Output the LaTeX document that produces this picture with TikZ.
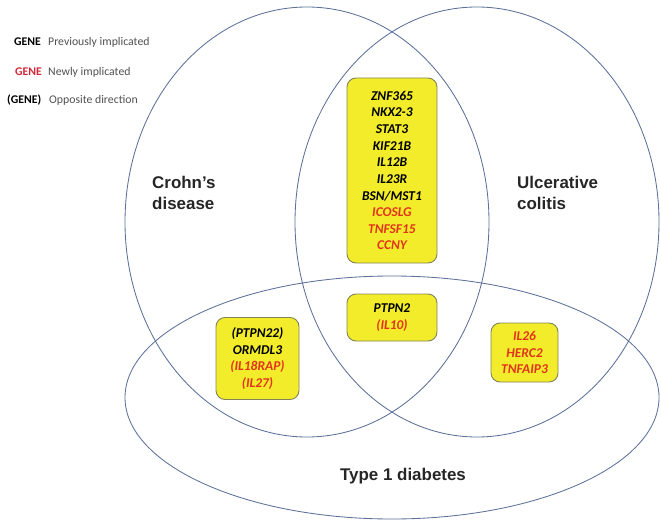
\documentclass[tikz,border=0pt]{standalone}
\usepackage{fontspec}
\setmainfont{Carlito}
\newfontfamily\labfont{Liberation Sans}
\definecolor{ring}{RGB}{92,112,152}
\definecolor{boxfill}{RGB}{242,236,42}
\definecolor{boxline}{RGB}{130,132,88}
\definecolor{newred}{RGB}{226,52,28}
\definecolor{legred}{RGB}{212,40,58}
\definecolor{legtext}{RGB}{80,80,80}
\begin{document}
\begin{tikzpicture}[x=1bp,y=-1bp,
  ringline/.style={draw=ring,line width=0.85bp},
  genebox/.style={draw=boxline,fill=boxfill,line width=0.9bp,rounded corners=9bp,
    align=center,inner sep=0pt,font=\fontsize{13.5}{16.7}\selectfont\bfseries\itshape},
  biglabel/.style={font=\labfont\fontsize{17}{20.5}\selectfont\bfseries,text=black!85,inner sep=0pt},
  legkey/.style={font=\fontsize{11.8}{14}\selectfont\bfseries,inner sep=0pt,anchor=west},
  legdesc/.style={font=\fontsize{11.8}{14}\selectfont,text=legtext,inner sep=0pt,anchor=west}]
\useasboundingbox (0,0) rectangle (661,521);
% circles
\draw[ringline] (307,222) ellipse [x radius=182bp, y radius=215bp];
\draw[ringline] (477,222) ellipse [x radius=182bp, y radius=215bp];
\draw[ringline] (392,397.5) ellipse [x radius=267bp, y radius=121.5bp];
% legend
\node[legkey] (k1) at (14,42) {GENE};
\node[legdesc] (d1) at (48,42) {Previously implicated};
\node[legkey,text=legred] (k2) at (15,72) {GENE};
\node[legdesc] (d2) at (48,72) {Newly implicated};
\node[legkey] (k3) at (7,100) {(GENE)};
\node[legdesc] (d3) at (49,100) {Opposite direction};
% labels
\node[biglabel,align=left,anchor=west] (cd) at (152,193) {Crohn’s\\disease};
\node[biglabel,align=left,anchor=west] (uc) at (517,193) {Ulcerative\\colitis};
\node[biglabel] (t1d) at (403,476) {Type 1 diabetes};
% gene boxes
\node[genebox,minimum width=90bp,minimum height=185bp] (top) at (392,170.5)
  {ZNF365\\NKX2-3\\STAT3\\KIF21B\\IL12B\\IL23R\\BSN/MST1\\
   \textcolor{newred}{ICOSLG}\\\textcolor{newred}{TNFSF15}\\\textcolor{newred}{CCNY}};
\node[genebox,minimum width=90bp,minimum height=47bp] (mid) at (392,317.5)
  {PTPN2\\\textcolor{newred}{(IL10)}};
\node[genebox,minimum width=83bp,minimum height=82bp] (left) at (257.5,358.5)
  {(PTPN22)\\ORMDL3\\\textcolor{newred}{(IL18RAP)}\\\textcolor{newred}{(IL27)}};
\node[genebox,minimum width=67bp,minimum height=59bp] (right) at (524.5,352.5)
  {\textcolor{newred}{IL26}\\\textcolor{newred}{HERC2}\\\textcolor{newred}{TNFAIP3}};
\end{tikzpicture}
\end{document}
